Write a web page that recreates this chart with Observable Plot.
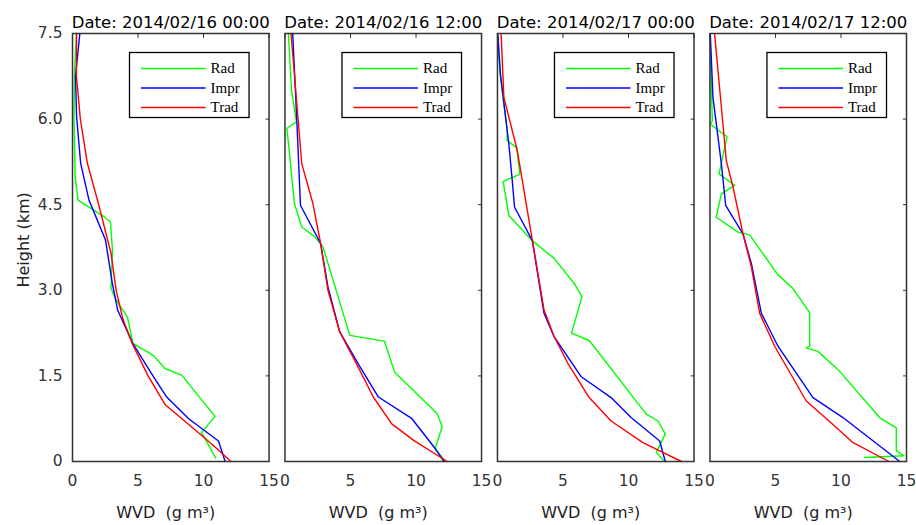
<!DOCTYPE html>
<html><head><meta charset="utf-8">
<script src="https://cdn.jsdelivr.net/npm/d3@7"></script>
<script src="https://cdn.jsdelivr.net/npm/@observablehq/plot@0.6"></script>
<style>body{margin:0;background:#fff}#chart{width:916px;height:525px}</style>
</head><body><div id="chart"></div>
<script>
const dates = ["2014/02/16 00:00", "2014/02/16 12:00", "2014/02/17 00:00", "2014/02/17 12:00"];
const seriesNames = ["Rad", "Impr", "Trad"];
const seriesColors = ["#00ff00", "#0000ff", "#ff0000"];
const xTicks = [0, 5, 10, 15];
const yTicks = [0, 1.5, 3, 4.5, 6, 7.5];
const xLabel = "WVD  (g m\u00b3)";
const yLabel = "Height (km)";

// [height km, WVD g m-3]
const rad1 = [[7.5,0.3],[6.8,0.15],[6.0,0.12],[5.0,0.2],[4.58,0.42],[4.29,2.4],[4.2,2.9],[3.7,3.05],[3.03,2.94],[2.83,3.33],[2.53,4.2],[2.07,4.6],[1.86,6.16],[1.63,7.06],[1.51,8.35],[0.79,10.88],[0.51,9.85],[0.06,10.93]];
const impr1 = [[7.5,0.56],[6.75,0.23],[6.05,0.31],[5.23,0.62],[4.58,1.26],[3.88,2.52],[3.12,3.04],[2.65,3.45],[2.07,4.6],[1.54,6.03],[1.13,7.19],[0.75,8.87],[0.36,11.14],[0,11.65]];
const trad1 = [[7.5,0.31],[6.75,0.3],[6.0,0.6],[5.23,1.13],[4.5,2.0],[3.65,2.94],[3.0,3.33],[2.5,3.84],[2.07,4.55],[1.5,5.77],[1.0,7.06],[0.5,9.64],[0.25,10.9],[0,12.09]];

const rad2 = [[7.5,0.26],[6.5,0.5],[5.95,0.87],[5.84,0.15],[4.52,0.72],[4.11,1.28],[3.94,2.26],[3.76,2.9],[2.21,4.95],[2.11,7.59],[1.57,8.36],[0.84,11.6],[0.61,12.0],[0.22,11.44],[0,12.26]];
const impr2 = [[7.5,0.59],[5.89,0.92],[4.49,1.18],[3.82,2.72],[3.06,3.28],[2.27,4.18],[1.71,5.59],[1.13,7.13],[0.75,9.69],[0.22,11.49],[0,12.13]];
const trad2 = [[7.5,0.46],[5.22,1.28],[4.52,2.13],[3.82,2.72],[3.0,3.28],[2.27,4.18],[1.71,5.46],[1.13,6.74],[0.66,8.15],[0.37,9.82],[0,12.38]];

const rad3 = [[7.48,0.0],[6.8,0.2],[5.8,0.74],[5.62,0.74],[5.5,1.46],[5.03,1.71],[4.91,0.43],[4.31,0.87],[3.87,2.66],[3.56,4.32],[3.12,5.86],[2.89,6.45],[2.25,5.65],[2.12,7.0],[0.83,11.36],[0.71,12.25],[0.48,12.81],[0.16,12.12],[0,12.76]];
const impr3 = [[7.48,0.03],[6.78,0.23],[5.56,0.87],[4.92,1.13],[4.46,1.3],[3.87,2.66],[2.6,3.55],[2.19,4.32],[1.49,6.37],[1.12,8.67],[0.77,10.2],[0.36,12.38],[0,12.81]];
const trad3 = [[7.48,0.28],[6.38,0.49],[5.45,1.51],[3.88,2.66],[2.66,3.55],[2.19,4.32],[1.73,5.35],[1.12,7.0],[0.71,8.67],[0.33,11.1],[0,14.04]];

const rad4 = [[7.48,0.0],[5.97,0.18],[5.91,0.03],[5.69,1.3],[5.04,0.69],[4.84,1.88],[4.69,0.87],[4.28,0.48],[4.02,2.14],[3.97,3.03],[3.27,5.19],[3.03,6.34],[2.61,7.61],[2.02,7.61],[1.99,7.35],[1.93,8.24],[1.58,9.9],[0.77,12.95],[0.59,14.22],[0.19,14.22],[0.1,14.8],[0.07,11.8]];
const impr4 = [[7.48,0.03],[6.38,0.23],[5.22,0.87],[4.49,1.2],[3.99,2.52],[3.47,3.16],[2.6,3.92],[2.02,5.19],[1.12,7.86],[0.77,10.15],[0,14.48]];
const trad4 = [[7.48,0.36],[5.27,1.25],[4.81,1.76],[3.99,2.52],[3.41,3.16],[2.6,3.79],[2.02,4.94],[1.06,7.35],[0.65,9.39],[0.33,10.92],[0,13.66]];

const panels = [[rad1, impr1, trad1], [rad2, impr2, trad2], [rad3, impr3, trad3], [rad4, impr4, trad4]];
const rows = [];
panels.forEach((p, i) => p.forEach((arr, j) => arr.forEach(([h, v]) => rows.push({date: dates[i], series: seriesNames[j], h, v}))));

const sans = "DejaVu Sans";
const serif = "Liberation Serif";
const frameH = 525 - 33 - 64;
const legendRows = [35, 54.5, 74];

const legendMarks = [];
seriesNames.forEach((s, j) => {
  legendMarks.push(Plot.ruleY([s], {y: null, stroke: seriesColors[j], strokeWidth: 1.3, insetLeft: 69, insetRight: 63, dy: legendRows[j] - frameH / 2}));
  legendMarks.push(Plot.text([s], {frameAnchor: "top-left", dx: 138, dy: legendRows[j], textAnchor: "start", lineAnchor: "middle", fontFamily: serif, fontSize: 15, fill: "black"}));
});

const chart = Plot.plot({
  width: 916, height: 525,
  marginTop: 33, marginBottom: 64, marginLeft: 72, marginRight: 10,
  style: {fontFamily: sans, background: "white"},
  x: {domain: [0, 15]},
  y: {domain: [0, 7.5]},
  fx: {domain: dates, paddingInner: 0.075, paddingOuter: 0, round: false, axis: null},
  color: {domain: seriesNames, range: seriesColors},
  marks: [
    Plot.axisX({ticks: xTicks, tickSize: 0, tickPadding: 13, fontSize: 15.5, fill: "#333", label: null}),
    Plot.axisX({anchor: "top", ticks: xTicks, tickSize: 4, dy: 4, tickFormat: () => "", stroke: "#333", label: null}),
    Plot.axisY({ticks: yTicks, tickSize: 0, tickPadding: 10, fontSize: 15.5, fill: "#333", label: null, tickFormat: d => d === 0 ? "0" : d.toFixed(1)}),
    Plot.axisY({anchor: "right", ticks: yTicks, tickSize: 4, dx: -4, tickFormat: () => "", stroke: "#333", label: null, facetAnchor: null}),
    Plot.line(rows, {x: "v", y: "h", fx: "date", z: "series", stroke: "series", strokeWidth: 1.4}),
    Plot.frame({insetLeft: 57, insetRight: 20, insetTop: 19, insetBottom: frameH - 84, fill: "white", stroke: "black", strokeWidth: 1.3}),
    ...legendMarks,
    Plot.frame({stroke: "#333", strokeWidth: 1.5}),
    Plot.text(dates, {fx: d => d, text: d => "Date: " + d, frameAnchor: "top", lineAnchor: "bottom", dy: -6, fontSize: 16.5, fill: "black"}),
    Plot.text([xLabel], {frameAnchor: "bottom", lineAnchor: "middle", dy: 51, dx: -5, fontSize: 16, fill: "#222"}),
    Plot.text([yLabel], {fx: () => dates[0], frameAnchor: "left", rotate: -90, dx: -49, dy: 40, fontSize: 16, fill: "#222"})
  ]
});
document.getElementById("chart").append(chart);
</script>
</body></html>
